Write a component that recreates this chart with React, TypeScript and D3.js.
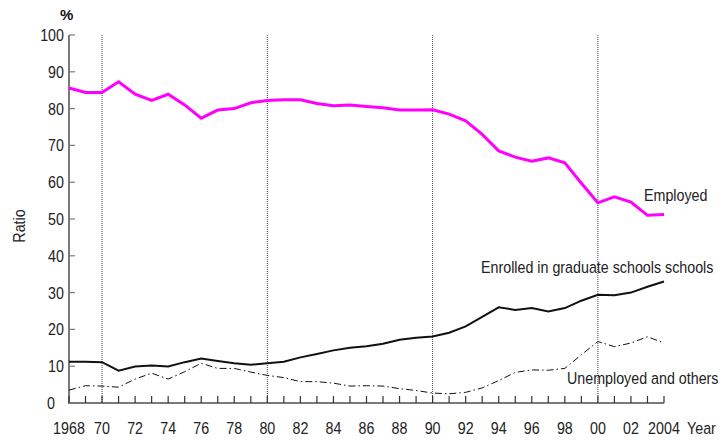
import React from "react";
import * as d3 from "d3";

const years: number[] = d3.range(1968, 2005);
const employed: number[] = [85.6, 84.4, 84.4, 87.3, 83.9, 82.2, 83.9, 81.0, 77.4, 79.6, 80.0, 81.6, 82.2, 82.4, 82.4, 81.4, 80.8, 81.0, 80.6, 80.2, 79.6, 79.6, 79.7, 78.5, 76.7, 73.0, 68.5, 66.8, 65.7, 66.6, 65.3, 59.7, 54.4, 56.0, 54.6, 51.0, 51.2];
const enrolled: number[] = [11.2, 11.2, 11.1, 8.8, 9.9, 10.2, 9.9, 11.1, 12.1, 11.4, 10.8, 10.4, 10.8, 11.2, 12.4, 13.3, 14.3, 15.0, 15.4, 16.1, 17.2, 17.7, 18.1, 19.1, 20.8, 23.4, 26.0, 25.3, 25.8, 24.9, 25.8, 27.8, 29.4, 29.3, 30.0, 31.6, 33.0];
const unemployed: number[] = [3.5, 4.7, 4.6, 4.3, 6.5, 8.1, 6.5, 8.5, 10.8, 9.4, 9.4, 8.4, 7.5, 6.9, 5.8, 5.8, 5.4, 4.6, 4.7, 4.6, 3.9, 3.4, 2.7, 2.5, 2.9, 4.1, 6.1, 8.3, 9.0, 8.9, 9.4, 13.1, 16.7, 15.3, 16.3, 18.0, 16.3];

const xTickYears: number[] = [1968, 1970, 1972, 1974, 1976, 1978, 1980, 1982, 1984, 1986, 1988, 1990, 1992, 1994, 1996, 1998, 2000, 2002, 2004];
const xTickLabels: string[] = ["1968", "70", "72", "74", "76", "78", "80", "82", "84", "86", "88", "90", "92", "94", "96", "98", "00", "02", "2004"];
const yTicks: number[] = [0, 10, 20, 30, 40, 50, 60, 70, 80, 90, 100];
const decadeLines: number[] = [1970, 1980, 1990, 2000];

const FONT = "'Liberation Sans', Arial, sans-serif";
const SX = 0.84;

function NText(props: {
  x: number;
  y: number;
  anchor?: "start" | "middle" | "end";
  size?: number;
  rotate?: number;
  children: React.ReactNode;
}) {
  const { x, y, anchor = "start", size = 17, rotate = 0, children } = props;
  return (
    <text
      transform={`translate(${x},${y}) rotate(${rotate}) scale(${SX},1)`}
      textAnchor={anchor}
      fontSize={size}
      fill="#222"
    >
      {children}
    </text>
  );
}

export default function App() {
  const x = d3.scaleLinear().domain([1968, 2004]).range([69, 664]);
  const y = d3.scaleLinear().domain([0, 100]).range([403, 35]);
  const line = d3
    .line<number>()
    .x((_, i) => x(years[i]))
    .y((d) => y(d));

  return (
    <svg
      width={723}
      height={443}
      style={{ position: "absolute", left: 0, top: 0, background: "#fff" }}
      fontFamily={FONT}
    >
      {/* decade dotted lines */}
      {decadeLines.map((yr) => (
        <line
          key={yr}
          x1={x(yr)}
          x2={x(yr)}
          y1={y(100)}
          y2={y(0)}
          stroke="#444"
          strokeWidth={1}
          strokeDasharray="1,1"
        />
      ))}

      {/* axes */}
      <line x1={x(1968)} x2={x(1968)} y1={y(100)} y2={y(0)} stroke="#7a7a7a" strokeWidth={2} />
      <line x1={x(1968) - 1} x2={x(2004)} y1={y(0)} y2={y(0)} stroke="#7a7a7a" strokeWidth={2} />
      {yTicks.map((t) => (
        <line key={t} x1={x(1968)} x2={x(1968) + 6} y1={y(t)} y2={y(t)} stroke="#7a7a7a" strokeWidth={1.2} />
      ))}
      {years.map((yr) => (
        <line key={yr} x1={x(yr)} x2={x(yr)} y1={y(0)} y2={y(0) - 7} stroke="#333" strokeWidth={1.2} />
      ))}

      {/* y tick labels */}
      {yTicks.map((t) => (
        <NText key={t} x={t === 0 ? 55 : 64} y={y(t) + 6} anchor="end">
          {t}
        </NText>
      ))}

      {/* x tick labels */}
      {xTickYears.map((yr, i) => (
        <NText key={yr} x={x(yr)} y={434} anchor="middle">
          {xTickLabels[i]}
        </NText>
      ))}

      <NText x={687} y={434}>Year</NText>
      <text x={60} y={20} fontSize={15} fontWeight="bold" fill="#111">%</text>
      <NText x={25} y={226} anchor="middle" rotate={-90}>Ratio</NText>

      {/* series */}
      <path d={line(unemployed) || ""} fill="none" stroke="#111" strokeWidth={1} strokeDasharray="7,3,1.5,3" />
      <path d={line(enrolled) || ""} fill="none" stroke="#111" strokeWidth={2} />
      <path d={line(employed) || ""} fill="none" stroke="#ff00ff" strokeWidth={3} strokeLinejoin="miter" />

      {/* series labels */}
      <NText x={644} y={201}>Employed</NText>
      <NText x={481} y={273}>Enrolled in graduate schools schools</NText>
      <NText x={567} y={384}>Unemployed and others</NText>
    </svg>
  );
}
